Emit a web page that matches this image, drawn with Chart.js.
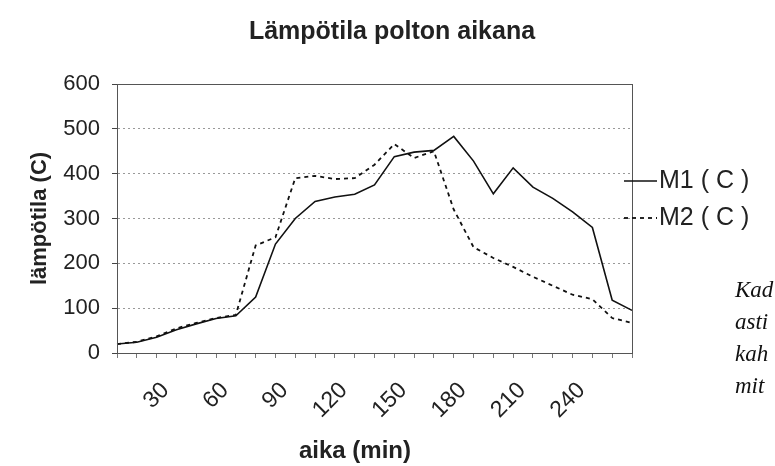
<!DOCTYPE html>
<html lang="fi">
<head>
    <meta charset="UTF-8">
    <title>Lämpötila polton aikana</title>
    <script src="https://cdn.jsdelivr.net/npm/chart.js"></script>
    <style>
        body {
            margin: 0;
            background: #fff;
            overflow: hidden;
        }

        #wrap {
            position: relative;
            width: 775px;
            height: 466px;
        }

        canvas {
            position: absolute;
            left: 0;
            top: 0;
        }

        .note {
            position: absolute;
            left: 735px;
            top: 274px;
            font-family: "Liberation Serif", "DejaVu Serif", serif;
            font-style: italic;
            font-size: 23px;
            line-height: 32px;
            color: #111;
            white-space: nowrap;
        }
    </style>
</head>
<body>

    <div id="wrap">
        <canvas id="chart" width="775" height="466"></canvas>
        <div class="note">Kad<br>asti<br>kah<br>mit</div>
    </div>

    <script>
        // aika (min), every 10 minutes
        const minutes = ['10', '20', '30', '40', '50', '60', '70', '80', '90', '100',
                         '110', '120', '130', '140', '150', '160', '170', '180', '190', '200',
                         '210', '220', '230', '240', '250', '260', '270'];
        // only these are printed under the axis
        const shownTicks = ['30', '60', '90', '120', '150', '180', '210', '240'];

        // lämpötila (C)
        const m1 = [20, 24, 35, 52, 65, 77, 83, 125, 243, 300,
                    338, 348, 354, 375, 438, 448, 452, 483, 428, 355,
                    413, 370, 345, 315, 280, 118, 95];
        const m2 = [20, 25, 37, 55, 67, 78, 85, 240, 258, 390,
                    395, 388, 390, 420, 466, 435, 450, 320, 236, 212,
                    192, 170, 150, 130, 120, 78, 67];

        const seriesNames = ['M1 ( C )', 'M2 ( C )'];

        const sansFont = '"Liberation Sans", Arial, sans-serif';

        // title, x title, plot frame and legend drawn by hand
        const extras = {
            id: 'extras',
            afterDraw(chart) {
                const ctx = chart.ctx;
                const a = chart.chartArea;
                ctx.save();

                ctx.strokeStyle = '#555';
                ctx.lineWidth = 1;
                ctx.strokeRect(a.left + 0.5, a.top + 0.5, a.right - a.left, a.bottom - a.top);

                ctx.fillStyle = '#222';
                ctx.textAlign = 'center';
                ctx.textBaseline = 'middle';
                ctx.font = 'bold 25px ' + sansFont;
                ctx.fillText('Lämpötila polton aikana', 392, 32);
                ctx.font = 'bold 24px ' + sansFont;
                ctx.fillText('aika (min)', 355, 451);

                chart.data.datasets.forEach((ds, i) => {
                    const y = 181 + i * 37;
                    ctx.beginPath();
                    ctx.setLineDash(ds.borderDash || []);
                    ctx.lineWidth = ds.borderWidth;
                    ctx.strokeStyle = ds.borderColor;
                    ctx.moveTo(624, y);
                    ctx.lineTo(657, y);
                    ctx.stroke();
                    ctx.setLineDash([]);
                    ctx.font = '25px ' + sansFont;
                    ctx.textAlign = 'left';
                    ctx.fillText(ds.label, 659, y);
                });

                ctx.restore();
            }
        };

        new Chart(document.getElementById('chart').getContext('2d'), {
            type: 'line',
            data: {
                labels: minutes,
                datasets: [{
                    label: seriesNames[0],
                    data: m1,
                    borderColor: '#111',
                    borderWidth: 1.6,
                    pointRadius: 0,
                    tension: 0,
                    fill: false
                }, {
                    label: seriesNames[1],
                    data: m2,
                    borderColor: '#111',
                    borderWidth: 1.8,
                    borderDash: [4, 4],
                    pointRadius: 0,
                    tension: 0,
                    fill: false
                }]
            },
            options: {
                responsive: false,
                animation: false,
                layout: {
                    padding: { top: 84, right: 143, left: 0, bottom: 0 }
                },
                plugins: {
                    legend: { display: false },
                    title: { display: false },
                    tooltip: { enabled: false }
                },
                scales: {
                    x: {
                        type: 'category',
                        afterFit: (s) => { s.height = 113; },
                        grid: {
                            drawOnChartArea: false,
                            tickLength: 5,
                            color: '#777'
                        },
                        border: { color: '#444' },
                        ticks: {
                            autoSkip: false,
                            minRotation: 45,
                            maxRotation: 45,
                            padding: 19,
                            labelOffset: 9,
                            color: '#222',
                            font: { family: sansFont, size: 23 },
                            callback: (v, i) => shownTicks.includes(minutes[i]) ? minutes[i] : ''
                        }
                    },
                    y: {
                        min: 0,
                        max: 600,
                        afterFit: (s) => { s.width = 117; },
                        grid: {
                            color: '#999',
                            tickColor: '#444',
                            tickLength: 5
                        },
                        border: { color: '#444', dash: [2, 3] },
                        ticks: {
                            stepSize: 100,
                            padding: 12,
                            color: '#222',
                            font: { family: sansFont, size: 22 }
                        },
                        title: {
                            display: true,
                            text: 'lämpötila (C)',
                            color: '#222',
                            padding: { top: 27, bottom: 0 },
                            font: { family: sansFont, size: 22, weight: 'bold' }
                        }
                    }
                }
            },
            plugins: [extras]
        });
    </script>

</body>
</html>
